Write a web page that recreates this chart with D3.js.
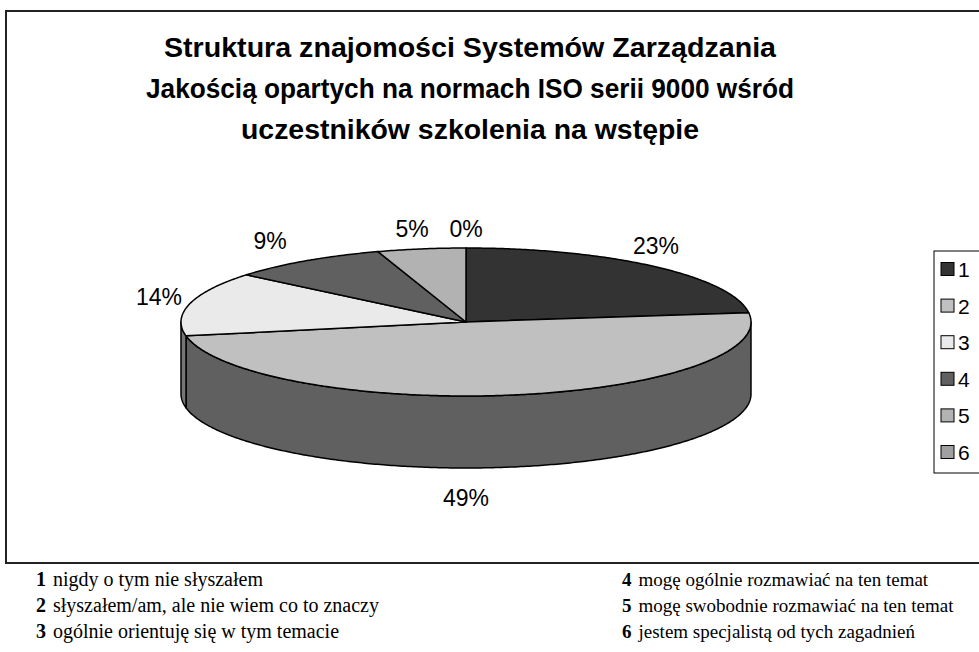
<!DOCTYPE html>
<html>
<head>
<meta charset="utf-8">
<script src="https://cdn.jsdelivr.net/npm/d3@7"></script>
<style>
    body { margin: 0; background: #fff; }
    svg { display: block; }
</style>
</head>
<body>
<div id="chart"></div>
<script>
// Chart data
const categories = ['1', '2', '3', '4', '5', '6'];
const values = [23, 49, 14, 9, 5, 0];
const sliceLabels = ['23%', '49%', '14%', '9%', '5%', '0%'];
const topColors = ['#333333', '#c0c0c0', '#eaeaea', '#606060', '#b2b2b2', '#a0a0a0'];
const sideColors = ['#1a1a1a', '#606060', '#757575', '#303030', '#595959', '#505050'];
const titleLines = [
    'Struktura znajomości Systemów Zarządzania',
    'Jakością opartych na normach ISO serii 9000 wśród',
    'uczestników szkolenia na wstępie'
];
const notesLeft = [
    ['1', 'nigdy o tym nie słyszałem'],
    ['2', 'słyszałem/am, ale nie wiem co to znaczy'],
    ['3', 'ogólnie orientuję się w tym temacie']
];
const notesRight = [
    ['4', 'mogę ogólnie rozmawiać na ten temat'],
    ['5', 'mogę swobodnie rozmawiać na ten temat'],
    ['6', 'jestem specjalistą od tych zagadnień']
];

// Layout
const width = 979, height = 652;
const cx = 466, cy = 322, rx = 285, ry = 74, depth = 72;
const titleWidths = [612, 648, 458];

const svg = d3.select('#chart')
    .append('svg')
    .attr('width', width)
    .attr('height', height);

// Outer frame
svg.append('rect')
    .attr('x', 6).attr('y', 11)
    .attr('width', 990).attr('height', 552)
    .attr('fill', '#fff')
    .attr('stroke', '#222')
    .attr('stroke-width', 2);

// Title
svg.append('text')
    .attr('text-anchor', 'middle')
    .attr('font-family', 'Liberation Sans, Arial, sans-serif')
    .attr('font-weight', 'bold')
    .attr('font-size', 27.5)
    .selectAll('tspan')
    .data(titleLines)
    .enter()
    .append('tspan')
    .attr('x', 470)
    .attr('y', (d, i) => 57 + i * 41)
    .attr('textLength', (d, i) => titleWidths[i])
    .attr('lengthAdjust', 'spacingAndGlyphs')
    .text(d => d);

// Pie angles
const pie = d3.pie().sort(null).value(d => d)
    .startAngle(0).endAngle(2 * Math.PI);
const arcs = pie(values);

const px = a => cx + rx * Math.sin(a);
const py = (a, dy) => cy + dy - ry * Math.cos(a);

function ellipsePoints(a0, a1, dy) {
    const n = Math.max(2, Math.ceil(Math.abs(a1 - a0) / 0.01));
    return d3.range(n + 1).map(i => {
        const a = a0 + (a1 - a0) * i / n;
        return [px(a), py(a, dy)];
    });
}

const line = d3.line();

// Side walls (front half only: PI/2 .. 3PI/2)
const sides = svg.append('g');
arcs.forEach((d, i) => {
    const a0 = Math.max(d.startAngle, Math.PI / 2);
    const a1 = Math.min(d.endAngle, 3 * Math.PI / 2);
    if (a1 <= a0) return;
    const pts = ellipsePoints(a0, a1, 0).concat(ellipsePoints(a1, a0, depth));
    sides.append('path')
        .attr('d', line(pts) + 'Z')
        .attr('fill', sideColors[i])
        .attr('stroke', '#000')
        .attr('stroke-width', 1.5)
        .attr('stroke-linejoin', 'round');
});

// Top faces
const tops = svg.append('g');
arcs.forEach((d, i) => {
    if (d.endAngle - d.startAngle <= 0) return;
    const pts = [[cx, cy]].concat(ellipsePoints(d.startAngle, d.endAngle, 0));
    tops.append('path')
        .attr('d', line(pts) + 'Z')
        .attr('fill', topColors[i])
        .attr('stroke', '#000')
        .attr('stroke-width', 1.5)
        .attr('stroke-linejoin', 'round');
});

// Slice labels
const labelPos = [
    [656, 254], [466, 506], [159, 305], [270, 249], [412, 237], [466, 237]
];
svg.append('g')
    .attr('font-family', 'Liberation Sans, Arial, sans-serif')
    .attr('font-size', 23)
    .attr('text-anchor', 'middle')
    .selectAll('text')
    .data(sliceLabels)
    .enter()
    .append('text')
    .attr('x', (d, i) => labelPos[i][0])
    .attr('y', (d, i) => labelPos[i][1])
    .text(d => d);

// Legend
svg.append('rect')
    .attr('x', 934).attr('y', 251)
    .attr('width', 60).attr('height', 222)
    .attr('fill', '#fff')
    .attr('stroke', '#000')
    .attr('stroke-width', 1);

const ly = d3.scalePoint().domain(categories).range([269, 452]);
const legend = svg.append('g')
    .selectAll('g')
    .data(categories)
    .enter()
    .append('g')
    .attr('transform', d => `translate(941,${ly(d)})`);

legend.append('rect')
    .attr('x', 0).attr('y', -6.5)
    .attr('width', 13).attr('height', 13)
    .attr('fill', (d, i) => topColors[i])
    .attr('stroke', '#000')
    .attr('stroke-width', 1);

legend.append('text')
    .attr('x', 17).attr('y', 8)
    .attr('font-family', 'Liberation Sans, Arial, sans-serif')
    .attr('font-size', 21)
    .text(d => d);

// Footnotes
function drawNotes(rows, x, size) {
    const g = svg.append('g')
        .attr('font-family', 'Liberation Serif, Times New Roman, serif')
        .attr('font-size', size);
    rows.forEach((r, i) => {
        const t = g.append('text')
            .attr('x', x)
            .attr('y', 586 + i * 26);
        t.append('tspan').attr('font-weight', 'bold').text(r[0]);
        t.append('tspan').attr('dx', 7).text(r[1]);
    });
}
drawNotes(notesLeft, 36, 20);
drawNotes(notesRight, 622, 19);
</script>
</body>
</html>
